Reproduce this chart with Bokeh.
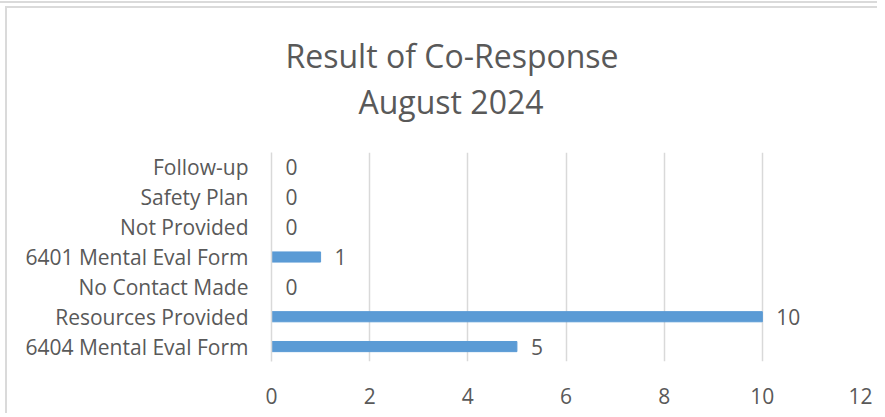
from bokeh.plotting import figure
from bokeh.models import ColumnDataSource, Title, LabelSet, FixedTicker
from bokeh.core.properties import value
from bokeh.embed import file_html
from bokeh.resources import INLINE

categories = ["6404 Mental Eval Form", "Resources Provided", "No Contact Made",
              "6401 Mental Eval Form", "Not Provided", "Safety Plan", "Follow-up"]
counts = [5, 10, 0, 1, 0, 0, 0]
x_ticks = [0, 2, 4, 6, 8, 10, 12]
title_lines = ["Result of Co-Response", "August 2024"]

FONT = "Open Sans"
TXT = "#595959"
BAR = "#5B9BD5"
GRID = "#D9D9D9"
EDGE = "#DADADA"

src = ColumnDataSource(dict(cat=categories, val=counts, lbl=[str(v) for v in counts]))

p = figure(y_range=categories, x_range=(0, 12), width=877, height=413,
           output_backend="svg", toolbar_location=None, title=None,
           min_border_left=271, min_border_right=17, min_border_top=152, min_border_bottom=52)
p.y_range.range_padding = 0
p.border_fill_color = None
p.background_fill_color = None
p.styles = {
    "background": (f"linear-gradient({EDGE},{EDGE}) 5px 6px / 2px 100% no-repeat, "
                   f"linear-gradient({EDGE},{EDGE}) 5px 6px / 100% 2px no-repeat, "
                   f"linear-gradient({EDGE},{EDGE}) 0px 1px / 100% 2px no-repeat, white"),
}

# spacer between plot frame and the title block
p.add_layout(Title(text=" ", text_font_size="1px", standoff=26), "above")
p.add_layout(Title(text=title_lines[1], text_font=FONT, text_font_size="32px",
                   text_font_style="normal", text_color=TXT, align="left",
                   offset=87, standoff=2), "above")
p.add_layout(Title(text=title_lines[0], text_font=FONT, text_font_size="32px",
                   text_font_style="normal", text_color=TXT, align="left",
                   offset=14, standoff=0), "above")

p.hbar(y="cat", right="val", left=0, height=0.34, color=BAR, source=src)

labels = LabelSet(x="val", y="cat", text="lbl", source=src, x_offset=14,
                  text_font=value(FONT), text_font_size=value("21px"),
                  text_color=TXT, text_baseline="middle")
p.add_layout(labels)

p.outline_line_color = None
p.ygrid.grid_line_color = None
p.xgrid.grid_line_color = GRID
p.xgrid.grid_line_width = 1.5
p.xaxis.ticker = FixedTicker(ticks=x_ticks)
p.xaxis.axis_line_color = None
p.xaxis.major_tick_line_color = None
p.xaxis.minor_tick_line_color = None
p.xaxis.major_label_text_font = FONT
p.xaxis.major_label_text_font_size = "21px"
p.xaxis.major_label_text_color = TXT
p.xaxis.major_label_standoff = 20

p.yaxis.axis_line_color = GRID
p.yaxis.axis_line_width = 1.5
p.yaxis.major_tick_line_color = None
p.yaxis.minor_tick_line_color = None
p.yaxis.major_label_text_font = FONT
p.yaxis.major_label_text_font_size = "21px"
p.yaxis.major_label_text_color = TXT
p.yaxis.major_label_standoff = 17

open("out.html", "w").write(file_html(p, INLINE))
